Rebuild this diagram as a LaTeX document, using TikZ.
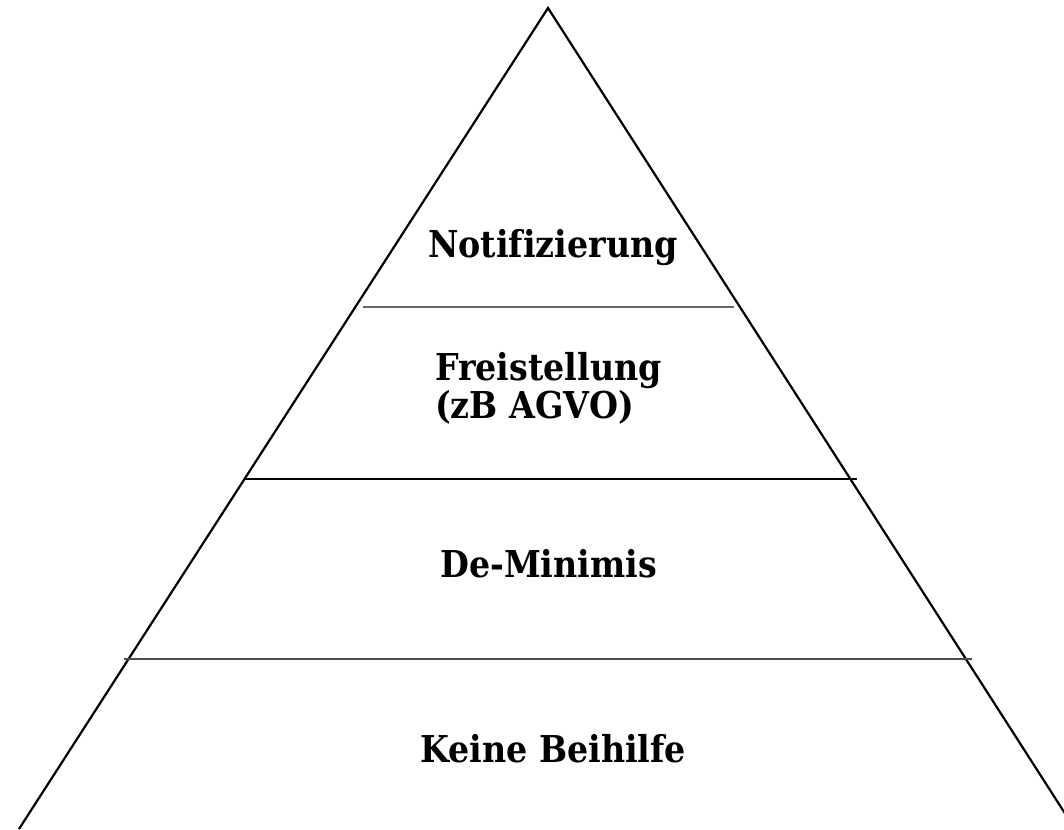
\documentclass[tikz,border=0pt]{standalone}
\usepackage{fontspec}
\setmainfont[Ligatures=NoCommon]{DejaVu Serif Condensed}
\begin{document}
\begin{tikzpicture}[x=1pt,y=-1pt,
  edge/.style={line width=2.2pt,black},
  tier/.style={line width=1.8pt},
  label/.style={font=\fontsize{37}{44}\selectfont\bfseries,inner sep=0pt,anchor=base west}]
\useasboundingbox (0,0) rectangle (1064,829);
\begin{scope}
\clip (0,0) rectangle (1064,829);
\coordinate (apex) at (548,8);
\coordinate (bl) at (19,829);
\coordinate (br) at (1075,829);
\draw[edge,line join=miter] (bl) -- (apex) -- (br);
\end{scope}
\draw[tier,black!60] (363,307) -- (734,307);
\draw[line width=1.5pt,black] (245,479) -- (857,479);
\draw[tier,black!70] (124,659) -- (972,659);
\node[label] (n1) at (428,257) {Notifizierung};
\node[label] (n2) at (435,380) {Freistellung};
\node[label] (n3) at (435,418) {(zB AGVO)};
\node[label] (n4) at (440,577) {De-Minimis};
\node[label] (n5) at (420,762) {Keine Beihilfe};
\end{tikzpicture}
\end{document}
